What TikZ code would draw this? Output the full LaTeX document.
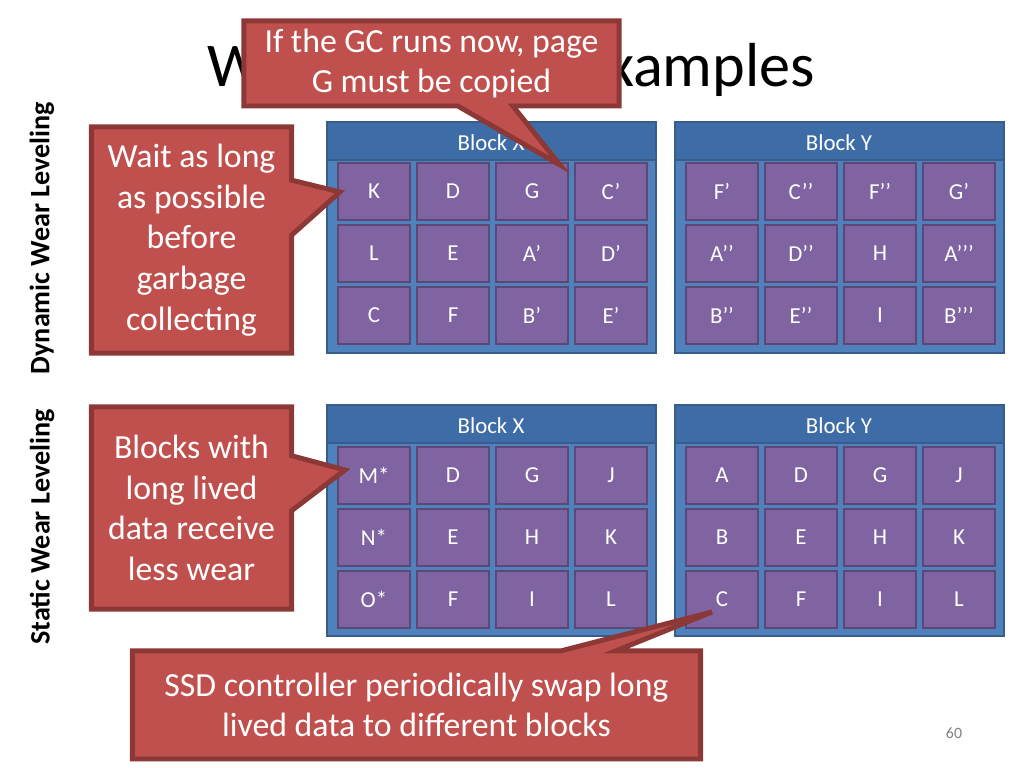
\documentclass[tikz,border=0pt]{standalone}
\usepackage{fontspec}
\setmainfont{Carlito}
\usetikzlibrary{shapes.callouts}
\definecolor{calloutred}{HTML}{C0504D}
\definecolor{calloutedge}{HTML}{8C3836}
\definecolor{blockblue}{HTML}{4F81BD}
\definecolor{blockhead}{HTML}{3E6CA6}
\definecolor{blockedge}{HTML}{385D8A}
\definecolor{cellpurple}{HTML}{8064A2}
\definecolor{celledge}{HTML}{5C4776}
\tikzset{
  blockbox/.style={draw=blockedge, line width=0.6pt, fill=blockblue},
  headbox/.style={draw=blockedge, line width=0.6pt, fill=blockhead},
  cellbox/.style={draw=celledge, line width=0.6pt, fill=cellpurple, text=white,
    minimum width=0.72cm, minimum height=0.57cm, inner sep=0pt, font=\fontsize{6.5}{7}\selectfont},
  balloon/.style={rectangle callout, draw=calloutedge, line width=1.4pt, fill=calloutred,
    text=white, align=center, inner sep=2pt, callout pointer width=0.55cm,
    font=\fontsize{9.6}{11.6}\selectfont}
}
\begin{document}
\begin{tikzpicture}[x=0.01cm,y=-0.01cm]
\useasboundingbox (0,0) rectangle (1024,768);
\fill[white] (0,0) rectangle (1024,768);

\node (title) at (511,70) {\fontsize{17.7}{19}\selectfont Wear Leveling Examples};

% side labels
\node[rotate=90, font=\bfseries\fontsize{8}{9}\selectfont] (dyn) at (42,238) {Dynamic Wear Leveling};
\node[rotate=90, font=\bfseries\fontsize{8}{9}\selectfont] (stat) at (42,527) {Static Wear Leveling};

% blocks
\foreach \bx/\by in {327/122, 675/122, 327/405, 675/405}{
  \draw[blockbox] (\bx,\by) rectangle ++(329,231);
  \draw[headbox] (\bx,\by) rectangle ++(329,38);
}
\node[white, font=\fontsize{6.5}{7}\selectfont] (dx-head) at (491,143) {Block X};
\node[white, font=\fontsize{6.5}{7}\selectfont] (dy-head) at (839,143) {Block Y};
\node[white, font=\fontsize{6.5}{7}\selectfont] (sx-head) at (491,426) {Block X};
\node[white, font=\fontsize{6.5}{7}\selectfont] (sy-head) at (839,426) {Block Y};

% cells
\foreach \lbl [count=\i from 0] in {K,D,G,C’,L,E,A’,D’,C,F,B’,E’}{
  \pgfmathtruncatemacro\cc{mod(\i,4)}\pgfmathtruncatemacro\rr{div(\i,4)}
  \node[cellbox] (dx-\i) at (374+\cc*79,191.5+\rr*62) {\lbl};
}
\foreach \lbl [count=\i from 0] in {F’,C’’,F’’,G’,A’’,D’’,H,A’’’,B’’,E’’,I,B’’’}{
  \pgfmathtruncatemacro\cc{mod(\i,4)}\pgfmathtruncatemacro\rr{div(\i,4)}
  \node[cellbox] (dy-\i) at (722+\cc*79,191.5+\rr*62) {\lbl};
}
\foreach \lbl [count=\i from 0] in {M*,D,G,J,N*,E,H,K,O*,F,I,L}{
  \pgfmathtruncatemacro\cc{mod(\i,4)}\pgfmathtruncatemacro\rr{div(\i,4)}
  \node[cellbox] (sx-\i) at (374+\cc*79,475.5+\rr*62) {\lbl};
}
\foreach \lbl [count=\i from 0] in {A,D,G,J,B,E,H,K,C,F,I,L}{
  \pgfmathtruncatemacro\cc{mod(\i,4)}\pgfmathtruncatemacro\rr{div(\i,4)}
  \node[cellbox] (sy-\i) at (722+\cc*79,475.5+\rr*62) {\lbl};
}

% callouts
\node[balloon, minimum width=3.75cm, minimum height=0.85cm,
      callout absolute pointer={(560,165)}] (gcnote) at (431.5,63.5)
  {If the GC runs now, page\\G must be copied};
\node[balloon, minimum width=2.0cm, minimum height=2.26cm,
      callout absolute pointer={(340,192)}] (waitnote) at (191.5,240)
  {Wait as long\\as possible\\before\\garbage\\collecting};
\node[balloon, minimum width=2.0cm, minimum height=2.02cm,
      callout absolute pointer={(345,470)}] (longnote) at (191.5,508)
  {Blocks with\\long lived\\data receive\\less wear};
\node[balloon, minimum width=5.68cm, minimum height=1.08cm,
      callout absolute pointer={(712,612)}] (swapnote) at (416.5,705)
  {SSD controller periodically swap long\\lived data to different blocks};

\node[gray, font=\fontsize{4.5}{5}\selectfont] (page) at (954,733) {60};
\end{tikzpicture}
\end{document}
